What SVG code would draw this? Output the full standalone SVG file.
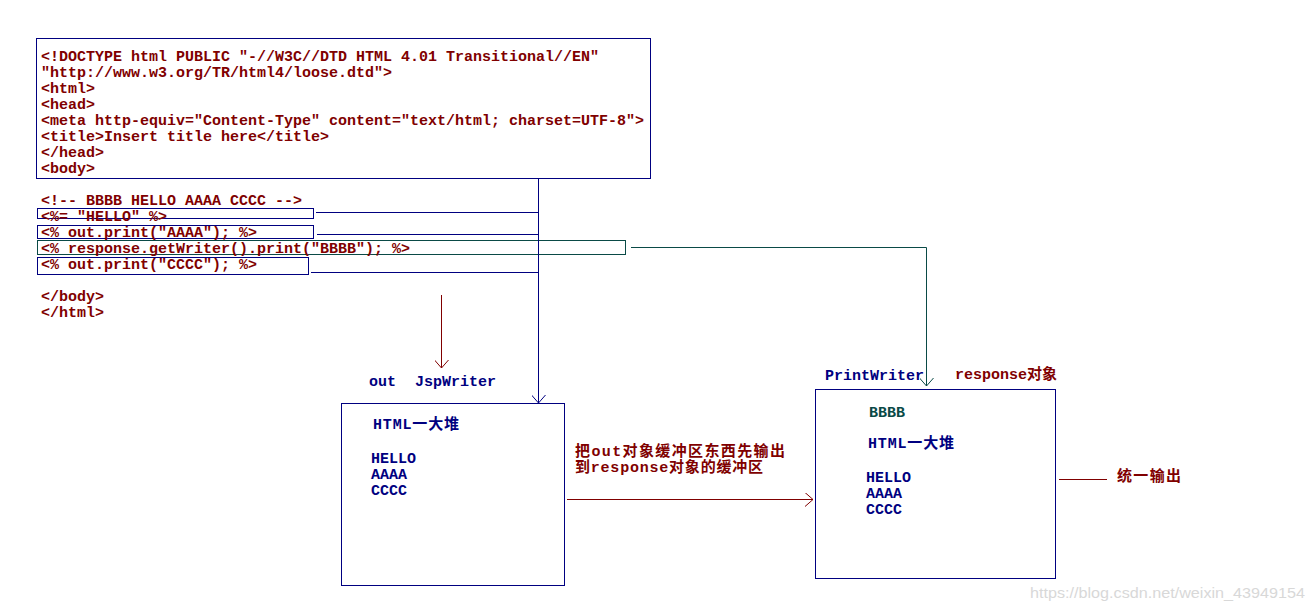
<svg xmlns="http://www.w3.org/2000/svg" width="1313" height="611" viewBox="0 0 1313 611">
<style>
.code{font-family:"Liberation Mono","DejaVu Sans Mono",monospace;font-weight:bold;font-size:15px;fill:#800000}
.blue{font-family:"Liberation Mono","Noto Sans CJK SC",monospace;font-weight:bold;font-size:15px;fill:#000080}
.teal{font-family:"Liberation Mono",monospace;font-weight:bold;font-size:15px;fill:#0a4a46}
.red{font-family:"Liberation Mono","Noto Sans CJK SC",monospace;font-weight:bold;font-size:15px;fill:#800000}
.box{fill:none;stroke:#000080;stroke-width:1}
.tbox{fill:none;stroke:#0a4a46;stroke-width:1}
.lb{fill:none;stroke:#000080;stroke-width:1}
.lt{fill:none;stroke:#0a4a46;stroke-width:1}
.lr{fill:none;stroke:#800000;stroke-width:1}
.wm{font-family:"Liberation Sans",Arial,sans-serif;font-size:15px;fill:#d8d8d8}
</style>
<defs>
<marker id="ab" markerUnits="userSpaceOnUse" markerWidth="14" markerHeight="14" refX="9" refY="7" orient="auto"><path d="M1,0 L9,7 L1,14" fill="none" stroke="#000080"/></marker>
<marker id="at" markerUnits="userSpaceOnUse" markerWidth="14" markerHeight="14" refX="9" refY="7" orient="auto"><path d="M1,0 L9,7 L1,14" fill="none" stroke="#0a4a46"/></marker>
<marker id="ar" markerUnits="userSpaceOnUse" markerWidth="14" markerHeight="14" refX="9" refY="7" orient="auto"><path d="M1,0 L9,7 L1,14" fill="none" stroke="#800000"/></marker>
</defs>
<rect width="1313" height="611" fill="#fff"/>

<g id="jsp-source">
<rect class="box" x="36.5" y="38.5" width="614" height="140"/>
<text class="code" x="41" y="61">&lt;!DOCTYPE html PUBLIC "-//W3C//DTD HTML 4.01 Transitional//EN"</text>
<text class="code" x="41" y="77">"http://www.w3.org/TR/html4/loose.dtd"&gt;</text>
<text class="code" x="41" y="93">&lt;html&gt;</text>
<text class="code" x="41" y="109">&lt;head&gt;</text>
<text class="code" x="41" y="125">&lt;meta http-equiv="Content-Type" content="text/html; charset=UTF-8"&gt;</text>
<text class="code" x="41" y="141">&lt;title&gt;Insert title here&lt;/title&gt;</text>
<text class="code" x="41" y="157">&lt;/head&gt;</text>
<text class="code" x="41" y="173">&lt;body&gt;</text>
<text class="code" x="41" y="205">&lt;!-- BBBB HELLO AAAA CCCC --&gt;</text>
<text class="code" x="41" y="301">&lt;/body&gt;</text>
<text class="code" x="41" y="317">&lt;/html&gt;</text>
</g>

<g id="expr-hello">
<rect class="box" x="37.5" y="208.5" width="276" height="10"/>
<text class="code" x="41" y="221">&lt;%= "HELLO" %&gt;</text>
</g>
<g id="out-aaaa">
<rect class="box" x="37.5" y="225.5" width="276" height="13"/>
<text class="code" x="41" y="237">&lt;% out.print("AAAA"); %&gt;</text>
</g>
<g id="response-bbbb">
<rect class="tbox" x="37.5" y="240.5" width="588" height="14"/>
<text class="code" x="41" y="253">&lt;% response.getWriter().print("BBBB"); %&gt;</text>
</g>
<g id="out-cccc">
<rect class="box" x="37.5" y="257.5" width="271" height="17"/>
<text class="code" x="41" y="269">&lt;% out.print("CCCC"); %&gt;</text>
</g>

<g id="out-buffer">
<text class="blue" x="369" y="386">out</text>
<text class="blue" x="415" y="386">JspWriter</text>
<rect class="box" x="341.5" y="403.5" width="223" height="182"/>
<text class="blue" x="373" y="429" textLength="86" lengthAdjust="spacing">HTML一大堆</text>
<text class="blue" x="371" y="463">HELLO</text>
<text class="blue" x="371" y="479">AAAA</text>
<text class="blue" x="371" y="495">CCCC</text>
</g>

<g id="response-buffer">
<text class="blue" x="825" y="380">PrintWriter</text>
<text class="red" x="955" y="379">response对象</text>
<rect class="box" x="815.5" y="389.5" width="240" height="189"/>
<text class="teal" x="869" y="417">BBBB</text>
<text class="blue" x="868" y="448" textLength="86" lengthAdjust="spacing">HTML一大堆</text>
<text class="blue" x="866" y="482">HELLO</text>
<text class="blue" x="866" y="498">AAAA</text>
<text class="blue" x="866" y="514">CCCC</text>
</g>

<g id="labels">
<text class="red" x="575" y="456" textLength="210" lengthAdjust="spacing">把out对象缓冲区东西先输出</text>
<text class="red" x="575" y="472" textLength="188" lengthAdjust="spacing">到response对象的缓冲区</text>
<text class="red" x="1117" y="481" textLength="64" lengthAdjust="spacing">统一输出</text>
<text class="wm" x="1030" y="598" textLength="275" lengthAdjust="spacingAndGlyphs">https://blog.csdn.net/weixin_43949154</text>
</g>

<g id="connectors">
<line class="lb" x1="316" y1="212.5" x2="538.5" y2="212.5"/>
<line class="lb" x1="317" y1="234.5" x2="538.5" y2="234.5"/>
<line class="lb" x1="311" y1="272.5" x2="538.5" y2="272.5"/>
<line class="lb" x1="538.5" y1="178" x2="538.5" y2="403" marker-end="url(#ab)"/>
<polyline class="lt" points="631,247.5 926.5,247.5 926.5,386" marker-end="url(#at)"/>
<line class="lr" x1="441.5" y1="295" x2="441.5" y2="368" marker-end="url(#ar)"/>
<line class="lr" x1="567" y1="499.5" x2="813" y2="499.5" marker-end="url(#ar)"/>
<line class="lr" x1="1059" y1="479.5" x2="1107" y2="479.5"/>
</g>
</svg>
